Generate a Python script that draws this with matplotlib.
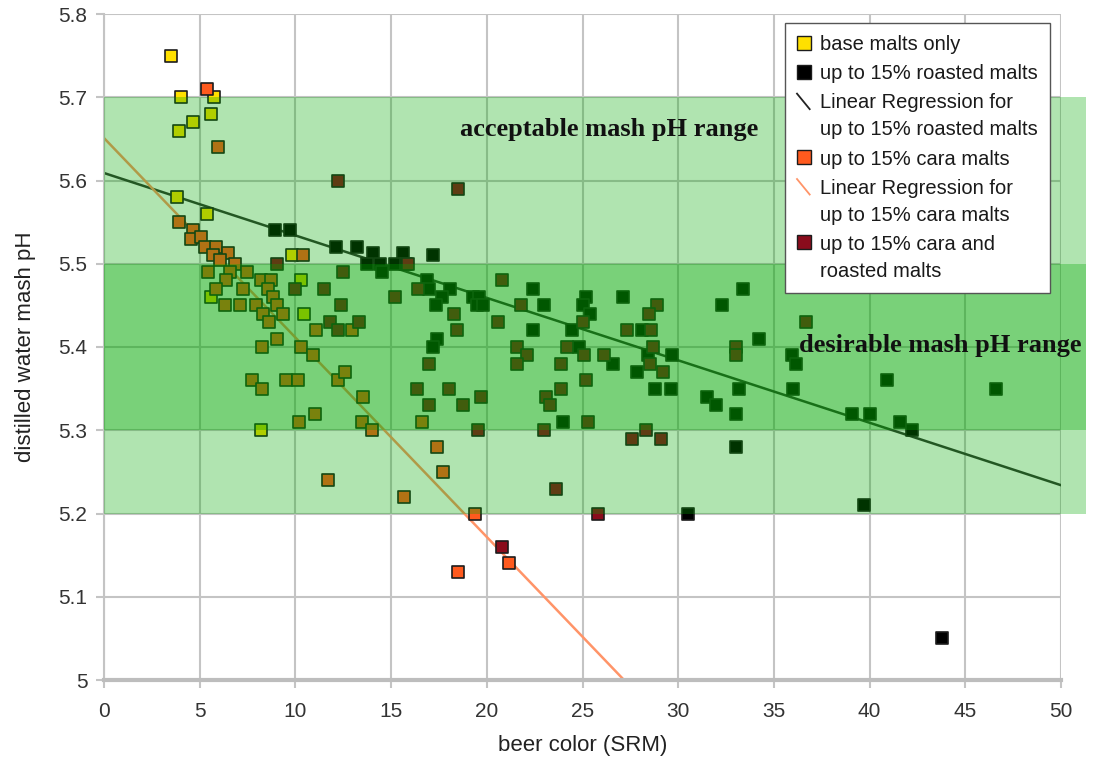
import matplotlib.pyplot as plt
from matplotlib.lines import Line2D
from matplotlib.patches import Rectangle
from matplotlib.legend_handler import HandlerBase

# ---- data (beer color SRM, distilled water mash pH) ----
base_x = [3.5, 4.0, 5.75, 5.6, 4.65, 3.9, 3.8, 5.4, 9.8, 10.3, 5.6, 10.45, 8.2]
base_y = [5.75, 5.70, 5.70, 5.68, 5.67, 5.66, 5.58, 5.56, 5.51, 5.48, 5.46, 5.44, 5.30]

cara_x = [5.4, 5.95, 3.9, 4.65, 4.55, 5.05, 5.3, 5.85, 5.7, 6.5, 6.05, 6.85, 10.4,
          5.45, 6.6, 7.45, 6.35, 5.85, 7.25, 8.2, 8.75, 8.55, 8.85, 6.3, 7.1, 7.95,
          9.05, 8.3, 9.35, 8.6, 9.05, 8.25, 10.3, 10.9, 11.1, 7.75, 9.5, 10.15, 8.25,
          12.2, 12.6, 11.0, 10.2, 12.95, 13.55, 13.5, 16.6, 14.0, 17.4, 17.7, 15.7,
          11.7, 19.4, 18.5, 21.15]
cara_y = [5.71, 5.64, 5.55, 5.54, 5.53, 5.532, 5.52, 5.52, 5.51, 5.513, 5.505, 5.50, 5.51,
          5.49, 5.49, 5.49, 5.48, 5.47, 5.47, 5.48, 5.48, 5.47, 5.46, 5.45, 5.45, 5.45,
          5.45, 5.44, 5.44, 5.43, 5.41, 5.40, 5.40, 5.39, 5.42, 5.36, 5.36, 5.36, 5.35,
          5.36, 5.37, 5.32, 5.31, 5.42, 5.34, 5.31, 5.31, 5.30, 5.28, 5.25, 5.22,
          5.24, 5.20, 5.13, 5.14]

roast_x = [8.95, 9.7, 12.1, 13.2, 14.05, 13.75, 14.4, 14.5, 15.6, 15.2, 15.8, 17.2,
           16.9, 17.0, 18.1, 17.65, 17.35, 19.3, 19.6, 19.5, 19.8, 17.4, 17.2, 22.4,
           23.0, 22.4, 25.2, 25.0, 25.4, 24.45, 27.1, 28.1, 24.8, 26.6, 28.4, 27.85,
           29.7, 28.8, 29.6, 24.0, 30.5, 33.4, 32.3, 34.2, 35.95, 36.15, 33.2, 36.0,
           31.5, 32.0, 33.0, 33.0, 40.9, 39.1, 40.0, 41.6, 42.2, 46.6, 39.7, 43.8]
roast_y = [5.54, 5.54, 5.52, 5.52, 5.513, 5.50, 5.50, 5.49, 5.513, 5.50, 5.50, 5.51,
           5.48, 5.47, 5.47, 5.46, 5.45, 5.46, 5.46, 5.45, 5.45, 5.41, 5.40, 5.47,
           5.45, 5.42, 5.46, 5.45, 5.44, 5.42, 5.46, 5.42, 5.40, 5.38, 5.39, 5.37,
           5.39, 5.35, 5.35, 5.31, 5.20, 5.47, 5.45, 5.41, 5.39, 5.38, 5.35, 5.35,
           5.34, 5.33, 5.32, 5.28, 5.36, 5.32, 5.32, 5.31, 5.30, 5.35, 5.21, 5.05]

cara_roast_x = [12.2, 18.5, 9.05, 15.9, 10.0, 11.5, 12.5, 12.4, 11.8, 12.2, 13.3, 15.2,
                16.4, 18.3, 18.45, 17.0, 16.35, 18.0, 17.0, 18.75, 19.7, 19.55, 20.8,
                21.8, 20.6, 21.6, 22.1, 21.6, 24.2, 25.1, 23.9, 26.1, 25.0, 25.2, 23.9,
                23.1, 23.3, 25.3, 23.0, 23.6, 25.8, 20.8, 27.6, 28.3, 29.1, 28.9, 28.5,
                27.3, 28.6, 28.7, 28.55, 29.2, 33.0, 33.0, 36.7]
cara_roast_y = [5.60, 5.59, 5.50, 5.50, 5.47, 5.47, 5.49, 5.45, 5.43, 5.42, 5.43, 5.46,
                5.47, 5.44, 5.42, 5.38, 5.35, 5.35, 5.33, 5.33, 5.34, 5.30, 5.48,
                5.45, 5.43, 5.40, 5.39, 5.38, 5.40, 5.39, 5.38, 5.39, 5.43, 5.36, 5.35,
                5.34, 5.33, 5.31, 5.30, 5.23, 5.20, 5.16, 5.29, 5.30, 5.29, 5.45, 5.44,
                5.42, 5.42, 5.40, 5.38, 5.37, 5.40, 5.39, 5.43]

# linear regression end points
roast_fit_x = [0, 50]
roast_fit_y = [5.609, 5.234]
cara_fit_x = [0, 27.17]
cara_fit_y = [5.651, 5.0]

acceptable_range = (5.2, 5.7)
desirable_range = (5.3, 5.5)
band_x_end = 51.3

x_ticks = [0, 5, 10, 15, 20, 25, 30, 35, 40, 45, 50]
y_ticks = [5.0, 5.1, 5.2, 5.3, 5.4, 5.5, 5.6, 5.7, 5.8]
y_tick_labels = ["5", "5.1", "5.2", "5.3", "5.4", "5.5", "5.6", "5.7", "5.8"]

plt.rcParams['font.family'] = ['Liberation Sans', 'DejaVu Sans']


class TopLineHandler(HandlerBase):
    """Legend handle placed beside the first line of a two-line label."""
    def __init__(self, kind, lift=0.8):
        super().__init__()
        self.kind = kind
        self.lift = lift

    def create_artists(self, legend, orig_handle, xdescent, ydescent,
                       width, height, fontsize, trans):
        x0 = -xdescent
        y0 = -ydescent + self.lift * fontsize
        if self.kind == 'diag':
            art = Line2D([x0, x0 + width * 0.9], [y0 + height, y0 - height * 0.1])
        else:
            art = Line2D([x0 + width / 2], [y0 + height / 2])
        self.update_prop(art, orig_handle, legend)
        art.set_transform(trans)
        return [art]


fig = plt.figure(figsize=(10.94, 7.65), dpi=100)
ax = fig.add_axes([104 / 1094, 85 / 765, 957 / 1094, 666 / 765])

grid_gray = '#c4c4c4'
edge = '#1c1c1c'
msize = 78

ax.plot(roast_fit_x, roast_fit_y, color='#333333', lw=1.8, zorder=2)
ax.plot(cara_fit_x, cara_fit_y, color='#ff9468', lw=1.8, zorder=2)

ax.scatter(base_x, base_y, marker='s', s=msize, c='#ffe000', edgecolors=edge, linewidths=1.2, zorder=3)
ax.scatter(roast_x, roast_y, marker='s', s=msize, c='#000000', edgecolors=edge, linewidths=1.2, zorder=3)
ax.scatter(cara_x, cara_y, marker='s', s=msize, c='#ff5a1e', edgecolors=edge, linewidths=1.2, zorder=3)
ax.scatter(cara_roast_x, cara_roast_y, marker='s', s=msize, c='#8a0c1c', edgecolors=edge, linewidths=1.2, zorder=3)

# translucent pH range bands drawn over the points
for lo, hi in (acceptable_range, desirable_range):
    ax.add_patch(Rectangle((0, lo), band_x_end, hi - lo, facecolor='#00a800',
                           alpha=0.31, lw=0, zorder=4, clip_on=False))

ax.text(26.4, 5.661, 'acceptable mash pH range', ha='center', va='center',
        family=['Liberation Serif', 'DejaVu Serif'], fontweight='bold',
        fontsize=19, color='#111111', zorder=6)
ax.text(36.3, 5.402, 'desirable mash pH range', ha='left', va='center',
        family=['Liberation Serif', 'DejaVu Serif'], fontweight='bold',
        fontsize=19, color='#111111', zorder=6)

ax.set_xlim(0, 50)
ax.set_ylim(5.0, 5.8)
ax.set_xticks(x_ticks)
ax.set_yticks(y_ticks)
ax.set_yticklabels(y_tick_labels)
ax.set_axisbelow(True)
ax.grid(True, color=grid_gray, lw=1.5)
ax.tick_params(length=6, width=1.5, color=grid_gray, labelcolor='#333333',
               labelsize=15)
ax.tick_params(axis='x', pad=10)
ax.tick_params(axis='y', pad=6)
for side in ('top', 'right'):
    ax.spines[side].set_visible(False)
ax.spines['left'].set_color(grid_gray)
ax.spines['left'].set_linewidth(1.5)
ax.spines['bottom'].set_color('#bdbdbd')
ax.spines['bottom'].set_linewidth(3)

ax.set_xlabel('beer color (SRM)', fontsize=16, color='#222222', labelpad=10)
ax.set_ylabel('distilled water mash pH', fontsize=16, color='#222222', labelpad=16)

handles = [
    Line2D([], [], marker='s', ls='none', markersize=10, markerfacecolor='#ffe000', markeredgecolor=edge),
    Line2D([], [], marker='s', ls='none', markersize=10, markerfacecolor='#000000', markeredgecolor=edge),
    Line2D([], [], color='#222222', lw=1.3),
    Line2D([], [], marker='s', ls='none', markersize=10, markerfacecolor='#ff5a1e', markeredgecolor=edge),
    Line2D([], [], color='#ff9468', lw=1.3),
    Line2D([], [], marker='s', ls='none', markersize=10, markerfacecolor='#8a0c1c', markeredgecolor=edge),
]
labels = [
    'base malts only',
    'up to 15% roasted malts',
    'Linear Regression for\nup to 15% roasted malts',
    'up to 15% cara malts',
    'Linear Regression for\nup to 15% cara malts',
    'up to 15% cara and\nroasted malts',
]
leg = ax.legend(handles, labels, loc='upper right',
                bbox_to_anchor=((1050 - 104) / 957, (680 - 23) / 666),
                borderaxespad=0, fontsize=14.5, frameon=True, fancybox=False,
                framealpha=1, edgecolor='#555555', handlelength=0.7,
                handletextpad=0.45, labelspacing=0.5, borderpad=0.6,
                handler_map={handles[2]: TopLineHandler('diag'),
                             handles[4]: TopLineHandler('diag'),
                             handles[5]: TopLineHandler('marker')})
leg.get_frame().set_linewidth(1.0)
leg.set_zorder(10)
for t in leg.get_texts():
    t.set_linespacing(1.55)
    t.set_color('#1a1a1a')

fig.savefig('out.png', dpi=100)
